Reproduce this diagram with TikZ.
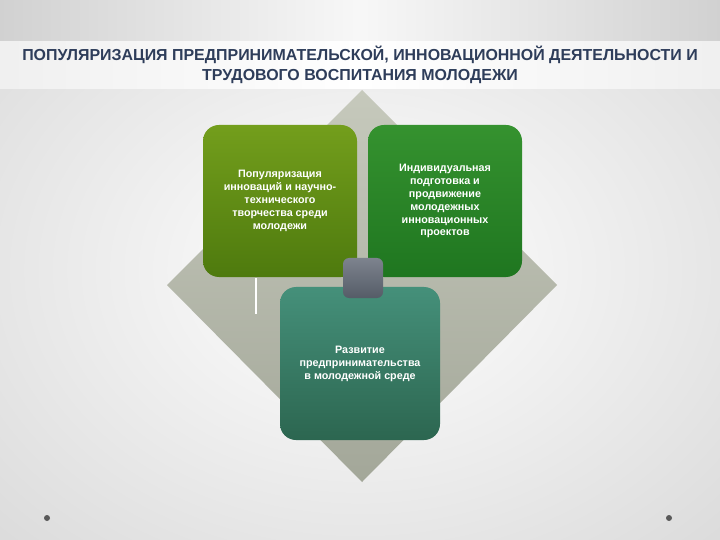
\documentclass[tikz,border=0pt]{standalone}
\usepackage{fontspec}
\setmainfont{Liberation Sans}
\usetikzlibrary{shadings}
\definecolor{titlec}{HTML}{2E3D5A}
\definecolor{dtop}{HTML}{C6C9BC}
\definecolor{dbot}{HTML}{A3A799}
\definecolor{aTop}{HTML}{739E1C}
\definecolor{aBot}{HTML}{4E7A0E}
\definecolor{bTop}{HTML}{35922F}
\definecolor{bBot}{HTML}{1F7620}
\definecolor{cTop}{HTML}{45907A}
\definecolor{cBot}{HTML}{2C6650}
\definecolor{hTop}{HTML}{7D838E}
\definecolor{hBot}{HTML}{555C67}
\tikzset{
  box/.style={rounded corners=16bp, minimum width=154bp, minimum height=152bp, inner sep=0pt,
    text=white, align=center, font=\fontsize{10.8}{13}\selectfont\bfseries},
  hub/.style={rounded corners=6bp, minimum size=40bp, inner sep=0pt, top color=hTop, bottom color=hBot},
  dot/.style={circle, minimum size=6bp, inner sep=0pt, fill=gray!70!black}
}
\begin{document}
\begin{tikzpicture}[x=1bp,y=-1bp]
\useasboundingbox (0,0) rectangle (720,540);
% background
\shade[inner color=white, outer color=black!17] (-260,-200) rectangle (980,740);
\shade[left color=black!18, right color=black!18, middle color=white!97!black] (0,0) rectangle (720,42);
\shade[left color=black!6, right color=black!6, middle color=white] (0,42) rectangle (720,89);
% diamond
\shade[top color=dtop, bottom color=dbot] (362,90) -- (557,285) -- (362,482) -- (167,285) -- cycle;
\draw[white, line width=1.2bp] (256,278) -- (256,314);
% title
\node[text=titlec, align=center, font=\fontsize{16}{20.5}\selectfont\bfseries] (title) at (360,65)
  {ПОПУЛЯРИЗАЦИЯ ПРЕДПРИНИМАТЕЛЬСКОЙ, ИННОВАЦИОННОЙ ДЕЯТЕЛЬНОСТИ И\\ТРУДОВОГО ВОСПИТАНИЯ МОЛОДЕЖИ};
% boxes
\node[box, top color=aTop, bottom color=aBot] (b1) at (280,201)
  {Популяризация\\инноваций и научно-\\технического\\творчества среди\\молодежи};
\node[box, top color=bTop, bottom color=bBot] (b2) at (445,201)
  {Индивидуальная\\подготовка и\\продвижение\\молодежных\\инновационных\\проектов};
\node[box, minimum width=160bp, minimum height=153bp, top color=cTop, bottom color=cBot] (b3) at (360,363.5)
  {Развитие\\предпринимательства\\в молодежной среде};
\node[hub] (h) at (363,278) {};
% dots
\node[dot] (d1) at (47,518) {};
\node[dot] (d2) at (669,518) {};
\end{tikzpicture}
\end{document}
